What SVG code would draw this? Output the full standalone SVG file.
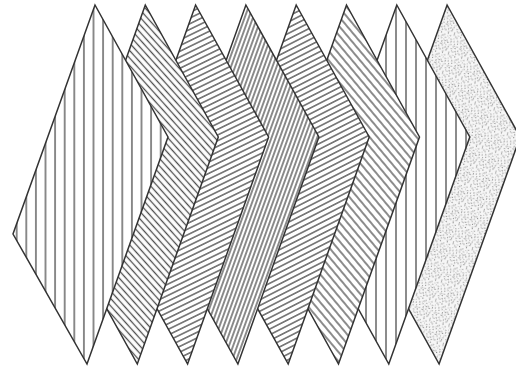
<svg xmlns="http://www.w3.org/2000/svg" width="516" height="372" viewBox="0 0 516 372">
<style>
.edge{stroke:#333;stroke-width:1.5;stroke-linejoin:miter}
.h{stroke:#4e4e4e;stroke-width:1.3}
.d{fill:#6e6e6e}
</style>
<defs>
<pattern id="pv1" patternUnits="userSpaceOnUse" x="88.7" y="0" width="9.6" height="10"><rect width="9.6" height="10" fill="#fff"/><line class="h" x1="4.8" y1="-1" x2="4.8" y2="11"/></pattern>
<pattern id="pv7" patternUnits="userSpaceOnUse" x="391" y="0" width="10" height="10"><rect width="10" height="10" fill="#fff"/><line class="h" x1="5" y1="-1" x2="5" y2="11"/></pattern>
<pattern id="p2" patternUnits="userSpaceOnUse" width="5" height="10" patternTransform="rotate(-42)"><rect width="5" height="10" fill="#fff"/><line class="h" x1="2.5" y1="-1" x2="2.5" y2="11"/></pattern>
<pattern id="p3" patternUnits="userSpaceOnUse" width="5.1" height="10" patternTransform="rotate(64)"><rect width="5.1" height="10" fill="#fff"/><line class="h" x1="2.55" y1="-1" x2="2.55" y2="11"/></pattern>
<pattern id="p4" patternUnits="userSpaceOnUse" width="3.9" height="10" patternTransform="rotate(20)"><rect width="3.9" height="10" fill="#fff"/><line class="h" x1="1.95" y1="-1" x2="1.95" y2="11"/></pattern>
<pattern id="p5" patternUnits="userSpaceOnUse" width="5.1" height="10" patternTransform="rotate(63)"><rect width="5.1" height="10" fill="#fff"/><line class="h" x1="2.55" y1="-1" x2="2.55" y2="11"/></pattern>
<pattern id="p6" patternUnits="userSpaceOnUse" width="6" height="10" patternTransform="rotate(-40)"><rect width="6" height="10" fill="#fff"/><line class="h" x1="3" y1="-1" x2="3" y2="11"/></pattern>
<pattern id="pdot" patternUnits="userSpaceOnUse" width="20" height="20" patternTransform="rotate(17)">
<rect width="20" height="20" fill="#f6f6f6"/>
<g class="d">
<circle cx="1.2" cy="2.3" r="0.55"/><circle cx="4.7" cy="0.8" r="0.55"/><circle cx="8.1" cy="3.1" r="0.55"/><circle cx="11.6" cy="1.4" r="0.55"/><circle cx="15.3" cy="2.7" r="0.55"/><circle cx="18.4" cy="0.6" r="0.55"/>
<circle cx="2.9" cy="5.6" r="0.55"/><circle cx="6.3" cy="7.1" r="0.55"/><circle cx="9.8" cy="5.9" r="0.55"/><circle cx="13.2" cy="6.8" r="0.55"/><circle cx="16.9" cy="5.2" r="0.55"/><circle cx="19.1" cy="7.9" r="0.55"/>
<circle cx="0.7" cy="9.4" r="0.55"/><circle cx="4.1" cy="10.8" r="0.55"/><circle cx="7.6" cy="9.7" r="0.55"/><circle cx="11" cy="11.3" r="0.55"/><circle cx="14.5" cy="9.9" r="0.55"/><circle cx="17.8" cy="11" r="0.55"/>
<circle cx="2.2" cy="13.7" r="0.55"/><circle cx="5.9" cy="14.6" r="0.55"/><circle cx="9.3" cy="13.4" r="0.55"/><circle cx="12.8" cy="15.1" r="0.55"/><circle cx="16.1" cy="13.8" r="0.55"/><circle cx="19.3" cy="14.9" r="0.55"/>
<circle cx="0.9" cy="17.6" r="0.55"/><circle cx="4.4" cy="18.9" r="0.55"/><circle cx="8" cy="17.3" r="0.55"/><circle cx="11.7" cy="18.6" r="0.55"/><circle cx="15" cy="17.9" r="0.55"/><circle cx="18.2" cy="19" r="0.55"/>
<circle cx="6.8" cy="2" r="0.55"/><circle cx="13.9" cy="3.9" r="0.55"/><circle cx="3.5" cy="7.9" r="0.55"/><circle cx="10.5" cy="8.2" r="0.55"/><circle cx="17.2" cy="8.6" r="0.55"/><circle cx="7.1" cy="12.1" r="0.55"/><circle cx="14.1" cy="12.4" r="0.55"/><circle cx="1.6" cy="15.9" r="0.55"/><circle cx="10.2" cy="16.4" r="0.55"/><circle cx="17.5" cy="16.3" r="0.55"/>
<circle cx="5.4" cy="4.4" r="0.45"/><circle cx="12.3" cy="4.9" r="0.45"/><circle cx="18.9" cy="3.6" r="0.45"/><circle cx="8.7" cy="11.6" r="0.45"/><circle cx="15.6" cy="11.9" r="0.45"/><circle cx="2.7" cy="11.9" r="0.45"/><circle cx="6.4" cy="16.8" r="0.45"/><circle cx="13.4" cy="17.1" r="0.45"/><circle cx="19.6" cy="12.6" r="0.45"/><circle cx="9.1" cy="0.4" r="0.45"/><circle cx="15.9" cy="7.4" r="0.45"/><circle cx="0.4" cy="4.9" r="0.45"/>
</g>
</pattern>
</defs>
<rect width="516" height="372" fill="#fff"/>
<g id="chevron8"><polygon class="edge" fill="url(#pdot)" points="447.1,5 520.1,137 439.1,364 366.1,232"/></g>
<g id="chevron7"><polygon class="edge" fill="url(#pv7)" points="396.8,5 469.8,137 388.8,364 315.8,232"/></g>
<g id="chevron6"><polygon class="edge" fill="url(#p6)" points="346.5,5 419.5,137 338.5,364 265.5,232"/></g>
<g id="chevron5"><polygon class="edge" fill="url(#p5)" points="296.2,5 369.2,137 288.2,364 215.2,232"/></g>
<g id="chevron4"><polygon class="edge" fill="url(#p4)" points="245.9,5 318.9,137 237.9,364 164.9,232"/></g>
<g id="chevron3"><polygon class="edge" fill="url(#p3)" points="195.6,5 268.6,137 187.6,364 114.6,232"/></g>
<g id="chevron2"><polygon class="edge" fill="url(#p2)" points="145.3,5 218.3,137 137.3,364 64.3,232"/></g>
<g id="chevron1"><polygon class="edge" fill="url(#pv1)" points="95,5 168,137 87,364 13,234"/></g>
</svg>
